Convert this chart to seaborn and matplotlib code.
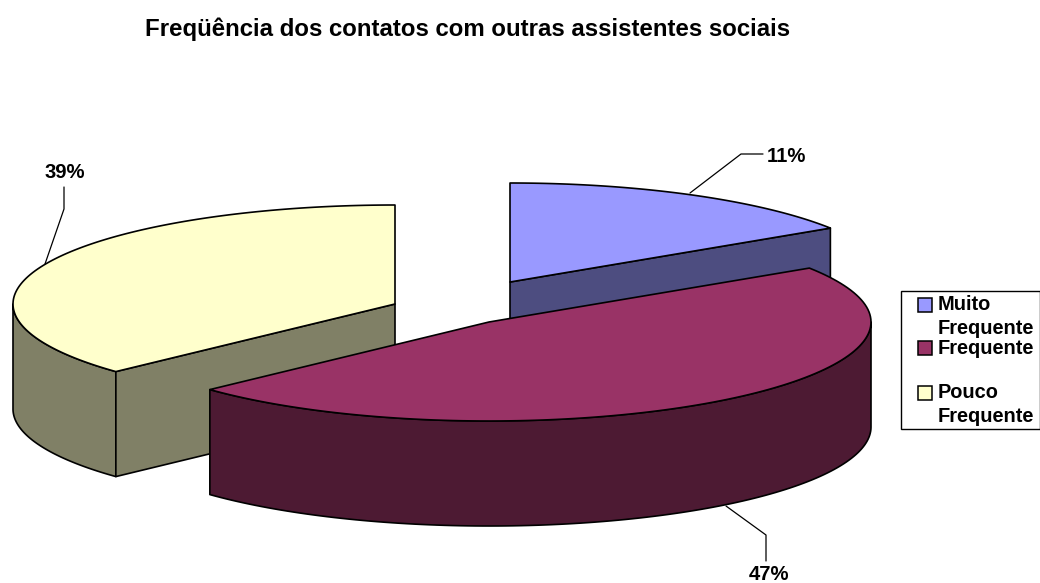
import numpy as np
import seaborn as sns
import matplotlib.pyplot as plt
from matplotlib.patches import Polygon, Rectangle

# values as printed on the chart (they add up to 97)
categories = ["Muito\nFrequente", "Frequente", "Pouco\nFrequente"]
percentages = [11, 47, 39]
top_colors = ["#9999FF", "#993366", "#FFFFCC"]
side_colors = ["#4D4D80", "#4D1A33", "#808066"]

title = "Freqüência dos contatos com outras assistentes sociais"

sns.set_theme(style="white")
plt.rcParams["font.family"] = ["Liberation Sans", "DejaVu Sans"]

RX, RY, DEPTH = 382, 99, 105
# exploded slice centres in pixels
APEX = [(510, 282), (489, 322), (395, 304)]


def warp(deg):
    # excel's perspective squeezes the angles, this gets the drawn ones
    rad = np.radians(deg)
    return deg + 14.3 * np.sin(2 * rad) + 3.1 * np.sin(rad)


def rim(apex, a0, a1, dy=0):
    t = np.radians(np.linspace(a0, a1, 120))
    return np.column_stack([apex[0] + RX * np.sin(t), apex[1] + dy - RY * np.cos(t)])


def draw_slice(ax, apex, a0, a1, top, side):
    kw = dict(edgecolor="black", linewidth=1.2, joinstyle="round")
    # outer wall, only the part that faces the viewer
    w0, w1 = max(a0, 90), min(a1, 270)
    if w1 > w0:
        wall = np.vstack([rim(apex, w0, w1), rim(apex, w0, w1, DEPTH)[::-1]])
        ax.add_patch(Polygon(wall, facecolor=side, **kw))
    # cut faces, only the ones turned to the front
    for a, front in ((a1, 0 < a1 < 90), (a0, 180 < a0 < 270)):
        if front:
            p = rim(apex, a, a)[0]
            face = [apex, p, (p[0], p[1] + DEPTH), (apex[0], apex[1] + DEPTH)]
            ax.add_patch(Polygon(face, facecolor=side, **kw))
    ax.add_patch(Polygon(np.vstack([[apex], rim(apex, a0, a1)]), facecolor=top, **kw))


shares = np.array(percentages) / sum(percentages)
edges = warp(np.concatenate([[0], np.cumsum(shares)]) * 360)

fig = plt.figure(figsize=(10.4, 5.83), dpi=100)
ax = fig.add_axes([0, 0, 1, 1])
ax.set_xlim(0, 1040)
ax.set_ylim(583, 0)
ax.axis("off")

for i in (2, 0, 1):
    draw_slice(ax, APEX[i], edges[i], edges[i + 1], top_colors[i], side_colors[i])

# leader lines and data labels
leaders = [([690, 741, 763], [193, 154, 154]), ([726, 766, 766], [506, 535, 561]), ([45, 64, 64], [264, 209, 187])]
label_pos = [(786, 156), (769, 575), (65, 172)]
for (xs, ys), pos, pct in zip(leaders, label_pos, percentages):
    ax.plot(xs, ys, color="black", linewidth=0.9)
    ax.text(pos[0], pos[1], f"{pct}%", fontsize=14.6, fontweight="bold", ha="center", va="center", color="black")

ax.text(468, 29, title, fontsize=17.3, fontweight="bold", ha="center", va="center", color="black")

# legend
ax.add_patch(Rectangle((901, 291), 139, 138, facecolor="white", edgecolor="black", linewidth=1))
marker_y = [305, 348, 393]
line_y = [(305, 329), (349,), (393, 417)]
for i, cat in enumerate(categories):
    ax.add_patch(Rectangle((918, marker_y[i] - 7), 14, 14, facecolor=top_colors[i], edgecolor="black", linewidth=1.1))
    for y, line in zip(line_y[i], cat.split("\n")):
        ax.text(938, y, line, fontsize=14.4, fontweight="bold", va="center", color="black")

fig.savefig("out.png", dpi=100, facecolor="white")
